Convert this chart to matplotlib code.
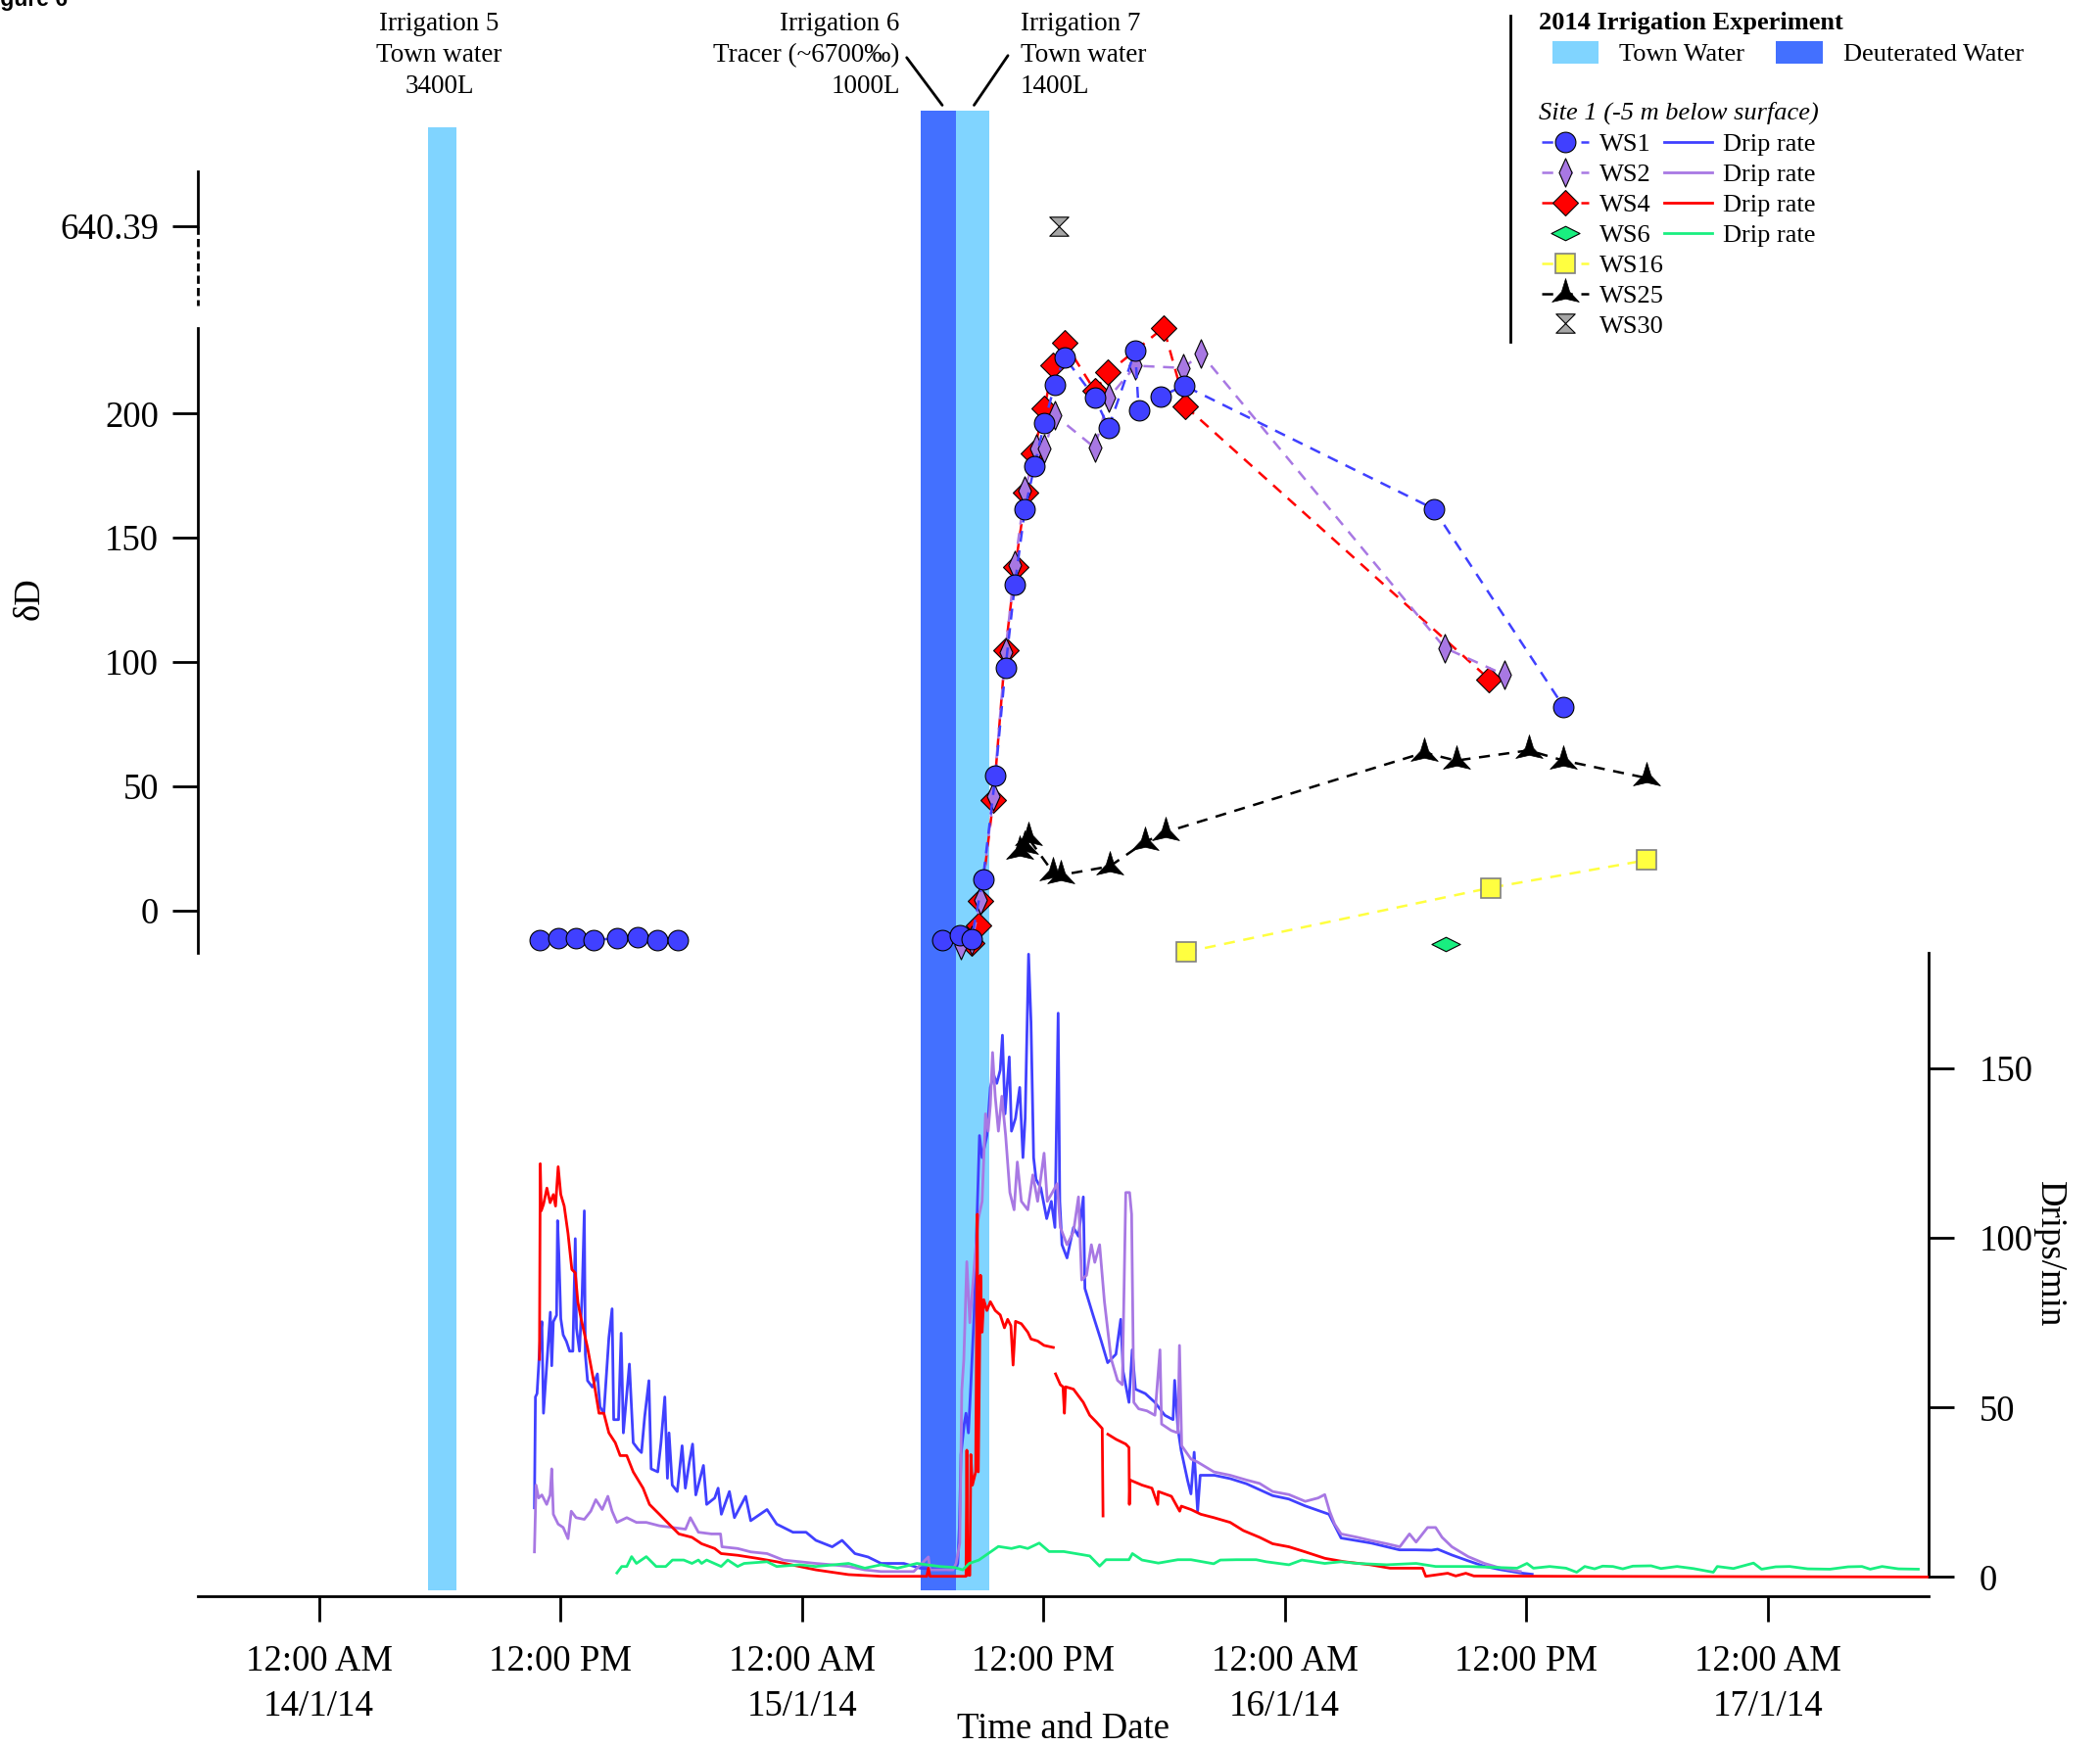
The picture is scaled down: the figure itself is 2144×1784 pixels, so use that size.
import numpy as np
import matplotlib
matplotlib.use('Agg')
import matplotlib.pyplot as plt
from matplotlib.lines import Line2D
from matplotlib.patches import Patch
from matplotlib.path import Path

plt.rcParams['font.family'] = ['Liberation Serif', 'DejaVu Serif']

# all times are hours after 12:00 AM 14/1/14

# irrigation events
irr_start = [5.44, 29.93, 31.64]
irr_end = [6.85, 31.64, 33.34]
irr_water = ['town', 'deut', 'town']
irr_text = ['Irrigation 5\nTown water\n3400L',
            'Irrigation 6\nTracer (~6700‰)\n1000L',
            'Irrigation 7\nTown water\n1400L']

# deltaD of the drip water samples
ws1_pre_t = [10.97, 11.9, 12.77, 13.63, 14.83, 15.82, 16.82, 17.82]
ws1_pre_d = [-11.9, -11.3, -11.3, -11.9, -11.3, -10.8, -11.9, -11.9]
ws1_t = [30.99, 31.84, 32.43, 33.0, 33.62, 34.12, 34.59, 35.09, 35.56, 36.05,
         36.57, 37.05, 38.56, 39.25, 40.57, 40.74, 41.83, 43.0, 55.4, 61.86]
ws1_d = [-11.8, -10.1, -11.7, 12.5, 54.2, 97.5, 131.3, 161.7, 178.8, 196.2,
         211.7, 222.8, 206.4, 194.4, 225.4, 201.5, 206.9, 211.3, 161.7, 82.0]
ws2_t = [31.9, 32.45, 32.9, 33.52, 34.12, 34.59, 35.09, 35.63, 36.05, 36.57,
         38.56, 39.25, 40.59, 42.97, 43.84, 55.95, 58.93]
ws2_d = [-14.0, -12.0, 4.0, 46.0, 104.0, 139.0, 169.0, 185.8, 185.8, 199.4,
         186.3, 206.4, 219.3, 218.4, 224.2, 105.7, 94.8]
ws4_t = [32.45, 32.78, 32.9, 33.52, 34.12, 34.61, 35.14, 35.51, 36.05, 36.5,
         37.07, 38.56, 39.23, 41.98, 43.07, 58.16]
ws4_d = [-13.0, -6.0, 3.6, 44.5, 104.9, 138.3, 168.2, 184.1, 202.2, 219.3,
         228.6, 209.2, 216.6, 234.6, 202.9, 93.1]
ws6_t = [55.98]
ws6_d = [-13.6]
ws16_t = [43.08, 58.24, 65.98]
ws16_d = [-16.8, 9.1, 20.2]
ws25_t = [34.84, 35.05, 35.24, 36.5, 36.87, 39.3, 41.04, 42.08, 54.93, 56.52,
          60.12, 61.86, 65.97]
ws25_d = [23.7, 26.0, 29.3, 15.1, 14.2, 17.7, 27.4, 31.5, 63.5, 60.3,
          64.4, 60.3, 53.3]
ws30_t = [36.77]
ws30_d = [640.39]

# drip rates (time, drips/min)
ws1_drip = [
    (10.71, 20.4), (10.76, 53.1), (10.84, 54.1), (11.0, 70.5), (11.08, 75.3), (11.16, 48.3),
    (11.5, 78.1), (11.57, 62.3), (11.65, 75.3), (11.81, 77.2), (11.86, 105.1), (11.93, 94.5),
    (12.02, 76.2), (12.14, 71.4), (12.3, 69.5), (12.46, 66.6), (12.62, 66.6), (12.74, 99.8),
    (12.8, 73.3), (12.95, 66.6), (13.08, 83.0), (13.19, 108.0), (13.24, 65.6), (13.35, 57.9),
    (13.59, 56.0), (13.84, 59.9), (13.97, 50.2), (14.16, 48.3), (14.41, 70.5), (14.57, 79.1),
    (14.65, 46.4), (14.89, 46.4), (15.02, 71.9), (15.13, 42.5), (15.43, 62.8), (15.62, 39.6),
    (15.86, 37.7), (16.03, 36.7), (16.19, 47.3), (16.4, 57.9), (16.51, 31.9), (16.84, 31.0),
    (17.0, 39.6), (17.19, 53.1), (17.32, 29.1), (17.4, 42.5), (17.56, 27.1), (17.81, 25.2),
    (18.05, 38.7), (18.21, 26.2), (18.41, 33.9), (18.57, 39.2), (18.73, 24.2), (19.11, 32.9),
    (19.27, 21.4), (19.67, 23.3), (19.84, 26.2), (20.0, 18.5), (20.4, 25.2), (20.65, 17.5),
    (21.21, 23.8), (21.46, 16.6), (22.27, 19.9), (22.75, 15.6), (23.56, 13.2), (24.21, 13.2),
    (24.7, 10.8), (25.51, 8.9), (26.0, 10.8), (26.64, 6.9), (27.29, 5.9), (27.94, 4.0),
    (29.07, 4.0), (29.88, 2.6), (31.18, 2.1), (31.67, 2.6), (31.75, 4.0), (31.83, 15.0),
    (31.91, 36.1), (32.07, 45.1), (32.16, 48.3), (32.28, 42.5), (32.4, 56.7), (32.56, 77.3),
    (32.72, 108.3), (32.83, 130.2), (32.96, 123.7), (33.2, 130.2), (33.37, 144.4), (33.53, 148.2),
    (33.69, 145.6), (33.86, 149.5), (33.97, 159.8), (34.1, 136.6), (34.31, 153.4), (34.42, 131.5),
    (34.62, 135.3), (34.83, 144.4), (34.99, 123.7), (35.1, 135.3), (35.27, 183.7), (35.39, 163.7),
    (35.52, 123.7), (35.64, 117.3), (35.88, 114.7), (36.17, 105.7), (36.4, 110.8), (36.58, 103.1),
    (36.74, 166.3), (36.82, 110.8), (36.93, 98.0), (37.18, 94.1), (37.5, 103.1), (37.75, 100.5),
    (37.99, 112.1), (38.07, 85.1), (38.47, 77.3), (38.88, 69.6), (39.2, 63.2), (39.61, 65.7),
    (39.85, 76.0), (39.97, 60.6), (40.26, 51.5), (40.42, 67.0), (40.58, 55.4), (41.07, 54.1),
    (41.55, 51.5), (42.04, 47.7), (42.45, 46.4), (42.53, 58.0), (42.69, 43.8), (42.85, 37.4),
    (43.18, 28.3), (43.34, 24.5), (43.5, 36.8), (43.67, 19.4), (43.8, 30.0), (44.5, 30.0),
    (45.3, 29.0), (46.1, 27.5), (47.4, 24.0), (48.2, 23.0), (49.0, 21.0), (50.2, 18.5),
    (50.8, 11.5), (52.3, 10.0), (53.7, 8.0), (54.5, 8.0), (55.3, 7.9), (55.6, 8.2),
    (56.3, 6.5), (57.1, 4.8), (57.9, 3.2), (58.7, 2.2), (59.7, 1.2), (60.3, 0.8),
]
ws2_drip = [
    (10.71, 7.4), (10.79, 27.1), (10.92, 23.3), (11.08, 24.2), (11.32, 21.4), (11.49, 24.2),
    (11.57, 31.9), (11.65, 18.5), (11.89, 15.6), (12.14, 14.6), (12.38, 11.3), (12.54, 19.4),
    (12.78, 17.5), (13.19, 17.0), (13.51, 19.4), (13.76, 22.8), (14.08, 19.9), (14.36, 23.8),
    (14.57, 19.4), (14.81, 16.1), (15.3, 17.5), (15.78, 16.1), (16.27, 16.1), (16.92, 15.1),
    (17.57, 14.6), (18.22, 14.1), (18.46, 17.5), (18.86, 13.2), (19.51, 12.7), (19.96, 12.7),
    (20.03, 8.9), (20.81, 8.4), (21.46, 7.4), (22.27, 6.9), (23.08, 5.0), (23.89, 4.5),
    (24.7, 4.0), (25.51, 3.6), (26.32, 3.1), (27.13, 2.1), (27.94, 1.6), (29.56, 1.6),
    (30.29, 5.9), (30.37, 2.1), (31.51, 2.1), (31.67, 4.0), (31.85, 10.0), (31.95, 55.0),
    (32.05, 64.0), (32.2, 93.0), (32.35, 75.0), (32.55, 90.0), (32.75, 105.0), (32.96, 110.8),
    (33.13, 136.6), (33.26, 131.5), (33.37, 139.2), (33.48, 154.7), (33.61, 141.8), (33.77, 131.5),
    (33.94, 141.8), (34.13, 130.2), (34.34, 113.4), (34.55, 108.3), (34.71, 122.4), (34.91, 110.8),
    (35.23, 108.3), (35.48, 118.6), (35.72, 110.8), (36.04, 125.0), (36.2, 110.8), (36.45, 113.4),
    (36.69, 116.0), (36.85, 103.1), (37.18, 98.0), (37.5, 101.8), (37.75, 112.1), (37.91, 87.6),
    (38.15, 89.0), (38.39, 98.0), (38.56, 92.8), (38.8, 98.0), (39.04, 81.2), (39.37, 64.4),
    (39.69, 58.0), (39.93, 56.7), (40.1, 113.4), (40.29, 113.4), (40.39, 107.0), (40.5, 51.5),
    (40.74, 49.6), (41.15, 49.0), (41.55, 47.7), (41.8, 67.0), (41.88, 45.1), (42.36, 43.2),
    (42.69, 42.5), (42.77, 68.3), (42.88, 38.7), (43.34, 34.8), (43.67, 33.9), (44.48, 31.0),
    (45.29, 30.0), (46.1, 28.6), (46.75, 27.6), (47.4, 25.2), (48.21, 24.3), (49.02, 22.3),
    (49.66, 23.3), (49.99, 24.3), (50.23, 19.4), (50.48, 15.6), (50.8, 12.7), (51.61, 11.7),
    (52.26, 10.8), (53.07, 9.8), (53.72, 8.9), (54.2, 12.7), (54.53, 10.3), (55.1, 14.6),
    (55.5, 14.6), (55.82, 11.7), (56.31, 8.9), (57.12, 6.0), (57.93, 4.0), (58.74, 2.6),
    (59.71, 1.6),
]
ws4_drip = [
    (10.96, 64.2), (11.0, 121.9), (11.05, 108.0), (11.16, 109.9), (11.33, 114.7), (11.49, 110.4),
    (11.65, 112.8), (11.76, 109.4), (11.89, 121.0), (12.02, 112.8), (12.19, 109.4), (12.38, 101.3),
    (12.57, 90.7), (12.74, 89.7), (12.87, 81.0), (13.03, 76.2), (13.35, 67.6), (13.68, 57.0),
    (13.92, 48.3), (14.16, 48.3), (14.41, 42.5), (14.73, 39.6), (14.97, 35.8), (15.3, 35.8),
    (15.62, 31.0), (16.11, 26.2), (16.43, 21.4), (16.92, 18.5), (17.4, 15.6), (17.89, 12.7),
    (18.54, 11.7), (19.02, 9.8), (19.67, 8.4), (19.99, 6.9), (20.81, 6.4), (21.78, 5.5),
    (22.75, 4.5), (23.89, 3.1), (24.7, 2.1), (26.32, 0.7), (27.94, 0.2), (30.21, 0.2),
    (30.29, 2.6), (30.37, 0.2), (32.16, 0.2), (32.2, 37.4), (32.24, 0.6), (32.35, 0.5),
    (32.4, 36.1), (32.48, 27.1), (32.64, 31.0), (32.72, 107.0), (32.77, 31.0), (32.88, 89.0),
    (32.96, 72.2), (33.04, 81.8), (33.2, 78.6), (33.37, 81.2), (33.61, 78.6), (33.86, 77.3),
    (34.07, 73.5), (34.23, 76.0), (34.39, 74.1), (34.5, 62.5), (34.62, 75.4), (34.91, 74.7),
    (35.23, 72.2), (35.39, 70.2), (35.72, 69.6), (36.04, 68.3), (36.5, 67.7), (36.55, np.nan),
    (36.61, 59.9), (36.85, 56.7), (36.98, 56.1), (37.05, 48.3), (37.11, 56.1), (37.5, 55.4),
    (37.99, 51.5), (38.31, 47.7), (38.64, 45.7), (38.93, 43.8), (38.97, 18.0), (39.1, np.nan),
    (39.21, 42.1), (39.62, 40.6), (40.1, 39.2), (40.26, 38.2), (40.28, 21.4), (40.31, 28.6),
    (40.91, 27.1), (41.4, 26.2), (41.69, 21.4), (41.72, 25.2), (42.37, 23.8), (42.78, 19.4),
    (42.86, 20.9), (43.34, 19.9), (43.83, 18.5), (44.48, 17.5), (45.29, 16.1), (45.94, 13.7),
    (46.75, 11.7), (47.4, 9.8), (48.21, 8.9), (49.02, 7.4), (50.0, 5.5), (50.96, 4.5),
    (52.26, 3.6), (53.23, 2.6), (54.85, 2.6), (55.01, 0.2), (56.1, 1.1), (56.5, 0.3),
    (57.0, 1.1), (57.4, 0.3), (62.0, 0.2), (79.95, 0.0),
]
ws6_drip = [
    (14.81, 1.2), (15.05, 3.1), (15.3, 3.1), (15.54, 6.0), (15.78, 4.0), (16.27, 6.0),
    (16.76, 3.1), (17.24, 3.1), (17.57, 5.0), (18.13, 5.0), (18.54, 4.0), (18.86, 5.0),
    (19.02, 4.0), (19.27, 5.0), (19.99, 3.1), (20.32, 5.0), (20.81, 3.1), (21.13, 4.0),
    (22.27, 4.5), (22.75, 3.1), (23.89, 3.6), (24.7, 3.1), (26.32, 4.0), (27.13, 2.6),
    (27.94, 3.6), (28.75, 2.6), (29.72, 4.0), (30.86, 3.1), (31.6, 2.8), (32.0, 2.1),
    (32.32, 4.0), (32.8, 5.0), (33.77, 9.0), (34.42, 8.4), (34.83, 9.0), (35.23, 8.4),
    (35.8, 10.0), (36.29, 7.5), (37.02, 7.5), (38.31, 6.2), (38.8, 3.2), (39.12, 5.1),
    (40.26, 5.1), (40.43, 6.9), (40.91, 5.0), (41.72, 4.1), (42.69, 5.1), (43.34, 5.1),
    (44.47, 3.9), (44.8, 5.0), (45.6, 5.1), (46.58, 5.1), (47.07, 4.5), (48.21, 3.6),
    (48.85, 5.0), (49.99, 4.0), (50.8, 4.5), (51.61, 4.0), (53.07, 3.6), (54.53, 4.0),
    (55.5, 3.1), (57.12, 3.1), (59.55, 2.6), (60.04, 4.0), (60.36, 2.6), (61.17, 3.1),
    (61.98, 2.6), (62.51, 1.4), (62.91, 3.1), (63.4, 2.4), (63.8, 3.2), (64.31, 3.1),
    (64.8, 2.4), (65.3, 3.2), (66.21, 3.3), (66.7, 2.5), (67.5, 3.1), (68.3, 2.5),
    (69.3, 1.4), (69.5, 3.1), (70.3, 2.5), (71.3, 4.1), (71.7, 2.3), (72.4, 3.0),
    (73.1, 3.1), (74.0, 2.4), (75.1, 2.3), (76.0, 3.0), (76.69, 3.1), (77.1, 2.3),
    (77.69, 3.1), (78.5, 2.4), (79.49, 2.3),
]

# axis ticks
dD_ticks = [0, 50, 100, 150, 200]
dD_top_ticks = [640.39]
rate_ticks = [0, 50, 100, 150]
time_ticks = [0, 12, 24, 36, 48, 60, 72]
time_labels = ['12:00 AM\n14/1/14', '12:00 PM', '12:00 AM\n15/1/14', '12:00 PM',
               '12:00 AM\n16/1/14', '12:00 PM', '12:00 AM\n17/1/14']

# colours
town_col = '#80d4ff'
deut_col = '#4370ff'
c1 = '#4040ff'
c2 = '#a878e3'
c4 = '#ff0000'
c6 = '#19ef80'
c16 = '#ffff40'

# custom markers
MOVE, LINE, CLOSE = Path.MOVETO, Path.LINETO, Path.CLOSEPOLY
star3 = Path.unit_regular_star(3, innerCircle=0.3)
hourglass = Path([(-1, 1), (1, 1), (-1, -1), (1, -1), (-1, 1)], [MOVE, LINE, LINE, LINE, CLOSE])
thin_diam = Path([(0, 1), (0.45, 0), (0, -1), (-0.45, 0), (0, 1)], [MOVE, LINE, LINE, LINE, CLOSE])
flat_diam = Path([(-1, 0), (0, 0.5), (1, 0), (0, -0.5), (-1, 0)], [MOVE, LINE, LINE, LINE, CLOSE])

dash = (0, (4.5, 3.5))
styles = {
    'WS1': dict(color=c1, ls=dash, lw=1.8, marker='o', ms=15, mfc=c1, mec='k', mew=0.8),
    'WS2': dict(color=c2, ls=dash, lw=1.8, marker=thin_diam, ms=21, mfc=c2, mec='k', mew=0.8),
    'WS4': dict(color=c4, ls=dash, lw=1.8, marker='D', ms=13, mfc=c4, mec='k', mew=0.8),
    'WS6': dict(color=c6, ls='none', marker=flat_diam, ms=21, mfc=c6, mec='k', mew=0.8),
    'WS16': dict(color=c16, ls=dash, lw=1.8, marker='s', ms=14, mfc=c16, mec='#808080', mew=1.2),
    'WS25': dict(color='k', ls=dash, lw=1.8, marker=star3, ms=23, mfc='k', mec='k', mew=0.5),
    'WS30': dict(color='k', ls='none', marker=hourglass, ms=14, mfc='#a6a6a6', mec='k', mew=0.8),
}


def fx(x):
    # horizontal position, from the left, on a 1568 wide page
    return x / 1568


def fy(y):
    # vertical position, from the top, on a 1305 high page
    return 1 - y / 1305


fig = plt.figure(figsize=(21.44, 17.84), dpi=100)
left, width = fx(148), fx(1440) - fx(148)
ax_bg = fig.add_axes([left, fy(1188), width, fy(83) - fy(1188)])
ax_rate = fig.add_axes([left, fy(1192), width, fy(712) - fy(1192)])
ax_d = fig.add_axes([left, fy(712), width, fy(245) - fy(712)])
ax_top = fig.add_axes([left, fy(205), width, fy(128) - fy(205)])

for ax in (ax_bg, ax_rate, ax_d, ax_top):
    ax.set_xlim(-6, 80)
    ax.patch.set_visible(False)

# irrigation bars
ax_bg.axis('off')
ax_bg.set_ylim(0, 1)
bar_tops = [0.989, 1.0, 1.0]
water_col = {'town': town_col, 'deut': deut_col}
ax_bg.bar(irr_start, bar_tops, width=np.subtract(irr_end, irr_start), align='edge',
          color=[water_col[w] for w in irr_water], linewidth=0)

# drip rates
for series, col, z in [(ws1_drip, c1, 2), (ws2_drip, c2, 3), (ws4_drip, c4, 4), (ws6_drip, c6, 5)]:
    t, r = zip(*series)
    ax_rate.plot(t, r, color=col, lw=2.0, zorder=z)

ax_rate.set_ylim(-5.53, 184)
ax_rate.spines['left'].set_visible(False)
ax_rate.spines['top'].set_visible(False)
ax_rate.spines['right'].set_bounds(0, 184)
ax_rate.yaxis.tick_right()
ax_rate.set_yticks(rate_ticks)
ax_rate.set_xticks(time_ticks)
ax_rate.set_xticklabels(time_labels)
ax_rate.tick_params(axis='both', direction='out', length=19, width=2, labelsize=26.5)
ax_rate.tick_params(axis='x', pad=17)
ax_rate.tick_params(axis='y', pad=18)
for lbl in ax_rate.get_xticklabels():
    lbl.set_linespacing(1.42)
for s in ax_rate.spines.values():
    s.set_linewidth(2)
ax_rate.set_xlabel('Time and Date', fontsize=26.5, labelpad=-8)

# deltaD samples
ax_d.plot(ws25_t, ws25_d, clip_on=False, zorder=2, **styles['WS25'])
ax_d.plot(ws16_t, ws16_d, clip_on=False, zorder=2, **styles['WS16'])
ax_d.plot(ws6_t, ws6_d, clip_on=False, zorder=2, **styles['WS6'])
ax_d.plot(ws4_t, ws4_d, clip_on=False, zorder=3, **styles['WS4'])
ax_d.plot(ws2_t, ws2_d, clip_on=False, zorder=4, **styles['WS2'])
ax_d.plot(ws1_pre_t, ws1_pre_d, clip_on=False, zorder=5, **styles['WS1'])
ax_d.plot(ws1_t, ws1_d, clip_on=False, zorder=5, **styles['WS1'])

ax_d.set_ylim(-17.25, 234.5)
for side in ('top', 'right', 'bottom'):
    ax_d.spines[side].set_visible(False)
ax_d.spines['left'].set_linewidth(2)
ax_d.tick_params(bottom=False, labelbottom=False)
ax_d.set_yticks(dD_ticks)
ax_d.tick_params(axis='y', length=19, width=2, labelsize=26.5, pad=10)

# broken upper part of the deltaD axis
ax_top.plot(ws30_t, ws30_d, clip_on=False, **styles['WS30'])
ax_top.set_ylim(621.0, 662.5)
for side in ('top', 'right', 'bottom'):
    ax_top.spines[side].set_visible(False)
ax_top.spines['left'].set_linewidth(2)
ax_top.spines['left'].set_bounds(640.39, 662.5)
ax_top.tick_params(bottom=False, labelbottom=False)
ax_top.set_yticks(dD_top_ticks)
ax_top.set_yticklabels(['640.39'])
ax_top.tick_params(axis='y', length=19, width=2, labelsize=26.5, pad=10)
ax_top.plot([0, 0], [640.39, 608.6], transform=ax_top.get_yaxis_transform(),
            color='k', lw=2, ls=(0, (3, 1.5)), clip_on=False)

# axis titles
fig.text(fx(22), fy(447), 'δD', rotation=90, ha='center', va='center', fontsize=26.5)
fig.text(fx(1530), fy(937), 'Drips/min', rotation=270, ha='center', va='center', fontsize=26.5)

# irrigation notes
note_kw = dict(va='center', fontsize=19.5, linespacing=1.38)
fig.text(fx(328), fy(41.5), irr_text[0], ha='center', ma='center', **note_kw)
fig.text(fx(672), fy(41.5), irr_text[1], ha='right', ma='right', **note_kw)
fig.text(fx(762), fy(41.5), irr_text[2], ha='left', ma='left', **note_kw)
xt = ax_bg.get_xaxis_transform()
ax_bg.annotate('', xy=(30.98, 1.004), xycoords=xt, xytext=(fx(677), fy(43)),
               textcoords='figure fraction',
               arrowprops=dict(arrowstyle='-', lw=2, color='k', shrinkA=0, shrinkB=0))
ax_bg.annotate('', xy=(32.56, 1.004), xycoords=xt, xytext=(fx(752.6), fy(41.5)),
               textcoords='figure fraction',
               arrowprops=dict(arrowstyle='-', lw=2, color='k', shrinkA=0, shrinkB=0))

# legend
fig.add_artist(Line2D([fx(1128), fx(1128)], [fy(12), fy(255)], color='k', lw=2))
fig.text(fx(1148.7), fy(17), '2014 Irrigation Experiment', fontsize=19, fontweight='bold',
         ha='left', va='center')
fig.legend([Patch(facecolor=town_col, edgecolor='none'), Patch(facecolor=deut_col, edgecolor='none')],
           ['Town Water', 'Deuterated Water'], ncol=2, loc='center left',
           bbox_to_anchor=(fx(1159), fy(40)), bbox_transform=fig.transFigure,
           frameon=False, borderpad=0, borderaxespad=0, fontsize=19,
           handlelength=1.8, handleheight=0.95, handletextpad=0.8, columnspacing=1.2)

fig.text(fx(1148.7), fy(84), 'Site 1 (-5 m below surface)', fontsize=19, fontstyle='italic',
         ha='left', va='center')
names = ['WS1', 'WS2', 'WS4', 'WS6', 'WS16', 'WS25', 'WS30']
handles = [Line2D([], [], **styles[n]) for n in names]
labels = list(names)
for col in (c1, c2, c4, c6):
    handles.append(Line2D([], [], color=col, lw=2.0))
    labels.append('Drip rate')
for _ in range(3):
    handles.append(Line2D([], [], ls='none'))
    labels.append('')
fig.legend(handles, labels, ncol=2, loc='upper left',
           bbox_to_anchor=(fx(1151), fy(99.5)), bbox_transform=fig.transFigure,
           frameon=False, borderpad=0, borderaxespad=0, fontsize=19,
           handlelength=1.84, handletextpad=0.42, columnspacing=0.0, labelspacing=0.28,
           numpoints=1)

# clipped page heading
fig.text(-20.5 / 2144, 1 - 6 / 1784, 'Figure 6', fontsize=16.5, fontweight='bold',
         family=['Liberation Sans', 'DejaVu Sans'], ha='left', va='baseline')

fig.savefig('out.png', dpi=100)
